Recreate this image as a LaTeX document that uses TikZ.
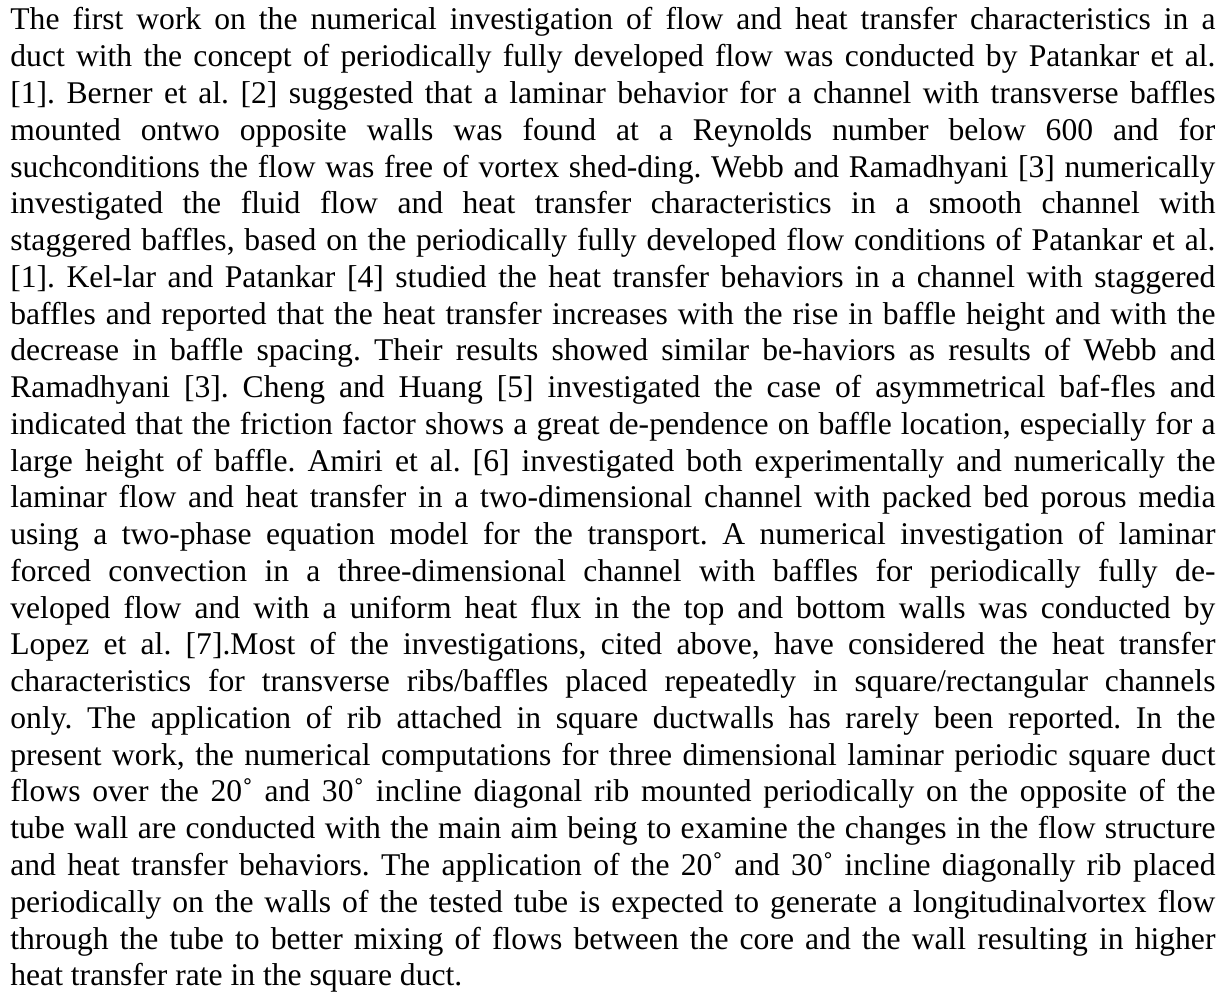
\documentclass[tikz,border=0pt]{standalone}
\usepackage{fontspec}
\setmainfont{Liberation Serif}
\usepackage{tikz}

\newlength{\linew}
\setlength{\linew}{602.5pt}
\frenchspacing

\begin{document}
\begin{tikzpicture}[x=1pt,y=1pt,
    line/.style={anchor=base west,inner sep=0pt,
        font=\fontsize{15.8}{18.4}\selectfont}]
        \useasboundingbox (0,0) rectangle (613,-497);

        %justified lines, the last one is set on its own
        \foreach \txt [count=\i] in {
            {The first work on the numerical investigation of flow and heat transfer characteristics in a},
            {duct with the concept of periodically fully developed flow was conducted by Patankar et al.},
            {[1]. Berner et al. [2] suggested that a laminar behavior for a channel with transverse baffles},
            {mounted ontwo opposite walls was found at a Reynolds number below 600 and for},
            {suchconditions the flow was free of vortex shed-ding. Webb and Ramadhyani [3] numerically},
            {investigated the fluid flow and heat transfer characteristics in a smooth channel with},
            {staggered baffles, based on the periodically fully developed flow conditions of Patankar et al.},
            {[1]. Kel-lar and Patankar [4] studied the heat transfer behaviors in a channel with staggered},
            {baffles and reported that the heat transfer increases with the rise in baffle height and with the},
            {decrease in baffle spacing. Their results showed similar be-haviors as results of Webb and},
            {Ramadhyani [3]. Cheng and Huang [5] investigated the case of asymmetrical baf-fles and},
            {indicated that the friction factor shows a great de-pendence on baffle location, especially for a},
            {large height of baffle. Amiri et al. [6] investigated both experimentally and numerically the},
            {laminar flow and heat transfer in a two-dimensional channel with packed bed porous media},
            {using a two-phase equation model for the transport. A numerical investigation of laminar},
            {forced convection in a three-dimensional channel with baffles for periodically fully de-},
            {veloped flow and with a uniform heat flux in the top and bottom walls was conducted by},
            {Lopez et al. [7].Most of the investigations, cited above, have considered the heat transfer},
            {characteristics for transverse ribs/baffles placed repeatedly in square/rectangular channels},
            {only. The application of rib attached in square ductwalls has rarely been reported. In the},
            {present work, the numerical computations for three dimensional laminar periodic square duct},
            {flows over the 20˚ and 30˚ incline diagonal rib mounted periodically on the opposite of the},
            {tube wall are conducted with the main aim being to examine the changes in the flow structure},
            {and heat transfer behaviors. The application of the 20˚ and 30˚ incline diagonally rib placed},
            {periodically on the walls of the tested tube is expected to generate a longitudinalvortex flow},
            {through the tube to better mixing of flows between the core and the wall resulting in higher}}
            \node[line] (l\i) at (5,{-15-(\i-1)*18.38}) {\hbox to \linew{\txt}};
        \node[line] (l27) at (5,{-15-26*18.38}) {heat transfer rate in the square duct.};
    \end{tikzpicture}
\end{document}
